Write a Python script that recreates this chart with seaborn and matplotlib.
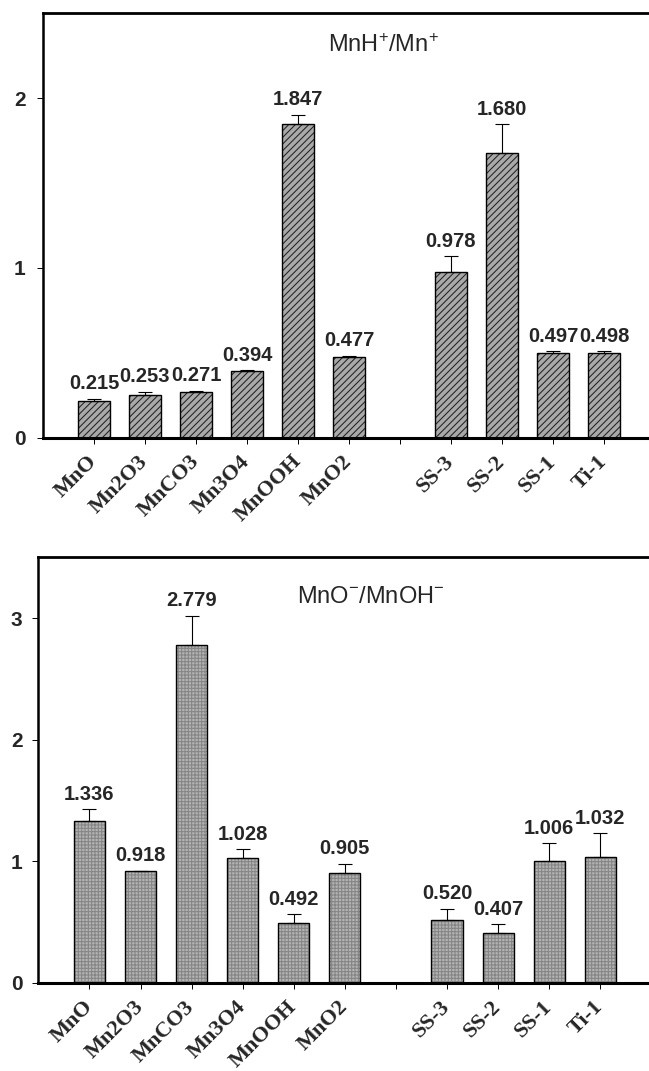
import numpy as np
import pandas as pd
import matplotlib
matplotlib.use("Agg")
import matplotlib.pyplot as plt
import seaborn as sns
from matplotlib.patches import Rectangle

# Samples in plotting order; the blank slot separates reference oxides from coupons
samples = ["MnO", "Mn2O3", "MnCO3", "Mn3O4", "MnOOH", "MnO2", "SS-3", "SS-2", "SS-1", "Ti-1"]
slot_order = ["MnO", "Mn2O3", "MnCO3", "Mn3O4", "MnOOH", "MnO2", " ", "SS-3", "SS-2", "SS-1", "Ti-1"]

# MnH+/Mn+ ratio (positive ions) and upper error
hydride_ratio = [0.215, 0.253, 0.271, 0.394, 1.847, 0.477, 0.978, 1.680, 0.497, 0.498]
hydride_err = [0.013, 0.018, 0.004, 0.004, 0.055, 0.006, 0.090, 0.165, 0.012, 0.010]

# MnO-/MnOH- ratio (negative ions) and upper error
oxide_ratio = [1.336, 0.918, 2.779, 1.028, 0.492, 0.905, 0.520, 0.407, 1.006, 1.032]
oxide_err = [0.093, 0.006, 0.240, 0.072, 0.073, 0.077, 0.088, 0.076, 0.143, 0.200]

hydride_yticks = [0, 1, 2]
oxide_yticks = [0, 1, 2, 3]

sns.set_style("ticks")
plt.rcParams["font.family"] = ["Liberation Sans", "DejaVu Sans"]
plt.rcParams["mathtext.fontset"] = "custom"
plt.rcParams["mathtext.rm"] = "Liberation Sans"
plt.rcParams["mathtext.it"] = "Liberation Sans:italic"
plt.rcParams["mathtext.bf"] = "Liberation Sans:bold"
plt.rcParams["hatch.linewidth"] = 0.75

W, H = 649, 1071
fig = plt.figure(figsize=(W / 100, H / 100), dpi=100)
fig.patch.set_facecolor("white")


def px_axes(left, top, width, height):
    return fig.add_axes([left / W, 1 - (top + height) / H, width / W, height / H])


ax_top = px_axes(43, 13.3, 612, 424.4)
ax_bot = px_axes(38.4, 557.3, 613, 425.7)


def draw_panel(ax, values, errors, face, hatch, hatch_color, title, title_xy,
               yticks, ylim, ypad):
    df = pd.DataFrame({"sample": samples, "ratio": values})
    sns.barplot(data=df, x="sample", y="ratio", order=slot_order, width=0.61,
                color=face, saturation=1, errorbar=None, linewidth=0,
                edgecolor=hatch_color, ax=ax)
    # hatch fill in its own colour, black outline drawn on top
    for p in list(ax.patches):
        p.set_hatch(hatch)
        p.set_edgecolor(hatch_color)
        p.set_linewidth(0)
        ax.add_patch(Rectangle(p.get_xy(), p.get_width(), p.get_height(),
                               fill=False, edgecolor="black", linewidth=1.0,
                               zorder=p.get_zorder() + 0.1))

    xs = [float(np.atleast_1d(ax.xaxis.convert_units(s))[0]) for s in samples]
    vals = np.asarray(values)
    errs = np.asarray(errors)
    ax.errorbar(xs, vals, yerr=[np.zeros_like(errs), errs], fmt="none",
                ecolor="black", elinewidth=0.8, capsize=4.8, capthick=0.8,
                zorder=5)
    for x, v, e in zip(xs, vals, errs):
        ax.annotate(f"{v:.3f}", (x, v + e), xytext=(0, 4),
                    textcoords="offset points", ha="center", va="bottom",
                    fontsize=14.5, fontweight="bold")

    ax.text(title_xy[0], title_xy[1], title, transform=ax.transAxes,
            ha="center", va="baseline", fontsize=17)

    ax.set_xlim(-1, 11)
    ax.set_ylim(*ylim)
    ax.set_yticks(yticks)
    ax.set_yticklabels([str(t) for t in yticks])
    ax.set_xlabel("")
    ax.set_ylabel("")
    ax.set_facecolor("white")

    for side in ("top", "left", "bottom", "right"):
        ax.spines[side].set_visible(True)
        ax.spines[side].set_color("black")
    ax.spines["top"].set_linewidth(2.0)
    ax.spines["left"].set_linewidth(1.8)
    ax.spines["bottom"].set_linewidth(2.2)
    ax.spines["right"].set_linewidth(2.0)

    ax.tick_params(axis="both", direction="out", length=4.5, width=0.7,
                   color="black")
    ax.tick_params(axis="y", pad=ypad, labelsize=15)
    ax.tick_params(axis="x", pad=10.5)
    for lab in ax.get_yticklabels():
        lab.set_fontweight("bold")
    for lab in ax.get_xticklabels():
        lab.set_rotation(45)
        lab.set_ha("right")
        lab.set_va("center")
        lab.set_rotation_mode("anchor")
        lab.set_fontfamily(["Liberation Serif", "DejaVu Serif"])
        lab.set_fontweight("bold")
        lab.set_fontsize(16)


draw_panel(ax_top, hydride_ratio, hydride_err, "#a9a9a9", "/////", "#222222",
           r"MnH$^{+}$/Mn$^{+}$", (0.556, 0.909), hydride_yticks, (0, 2.5), 8)
draw_panel(ax_bot, oxide_ratio, oxide_err, "#b3b3b3", "+++++", "#858585",
           r"MnO$^{-}$/MnOH$^{-}$", (0.542, 0.892), oxide_yticks, (0, 3.5), 7)

fig.savefig("out.png", dpi=100, facecolor="white")
